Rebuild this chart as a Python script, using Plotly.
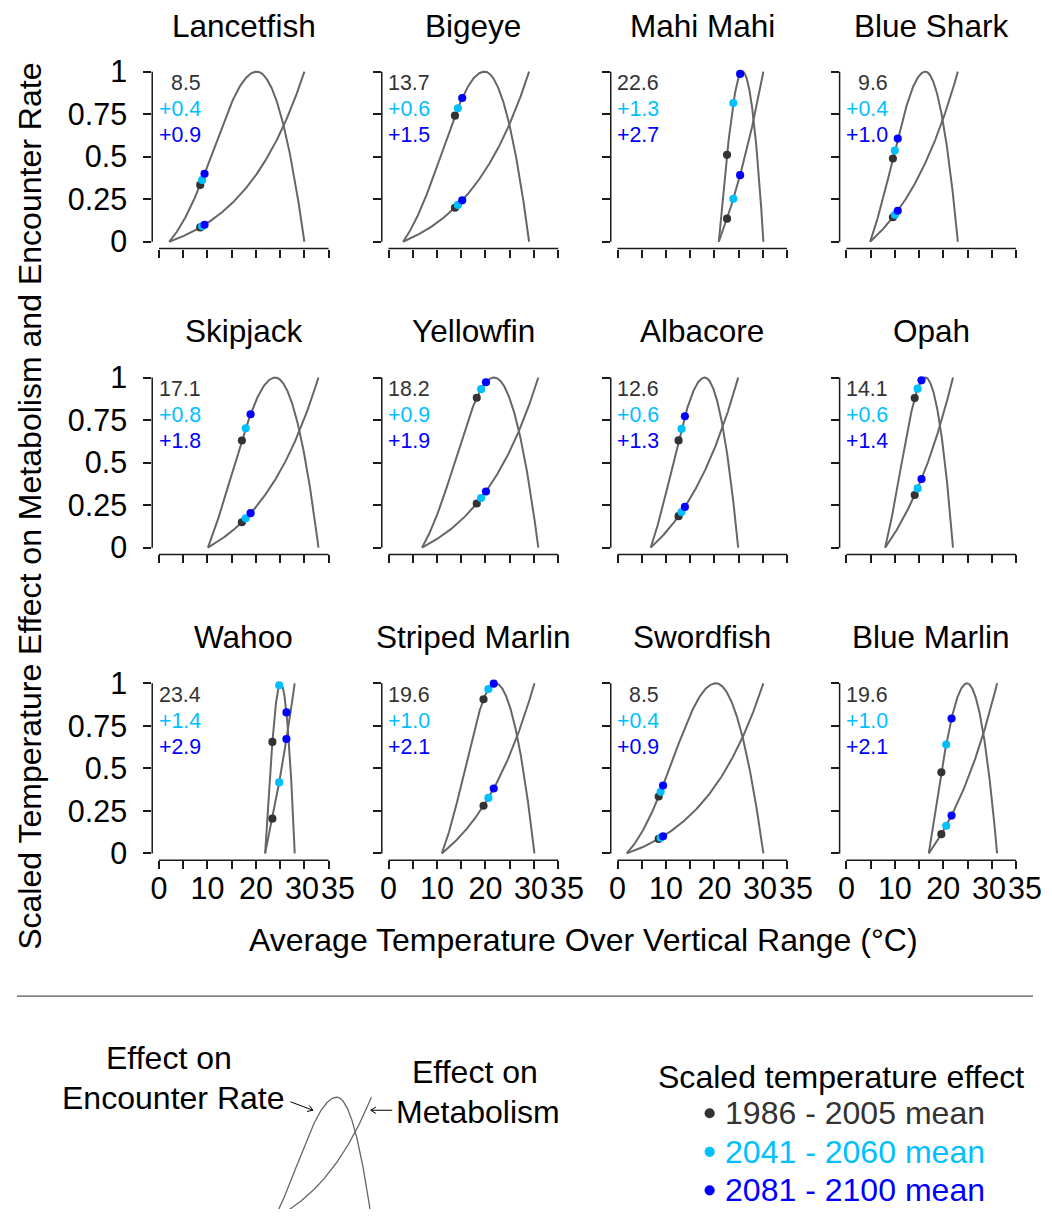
import numpy as np
import plotly.graph_objects as go

W, H = 1052, 1219
FONT = "Liberation Sans, Arial, Helvetica, sans-serif"

# layout grid -> figure pixels (layout px = SCALE * figure px + SHIFT)
SCALE_X, SHIFT_X = 1.0, 0.0
SCALE_Y, SHIFT_Y = 0.983, 10.4
FS = 1 / SCALE_Y  # font / marker size factor

# ---- species thermal niche parameters (deg C) ----
species = ["Lancetfish", "Bigeye", "Mahi Mahi", "Blue Shark",
           "Skipjack", "Yellowfin", "Albacore", "Opah",
           "Wahoo", "Striped Marlin", "Swordfish", "Blue Marlin"]
t_min = [2.1, 3.0, 20.9, 4.9, 10.1, 6.9, 6.85, 8.0, 21.9, 11.0, 1.9, 17.0]
t_opt = [20.2, 19.8, 25.8, 16.3, 24.0, 21.8, 18.0, 16.3, 25.1, 22.05, 20.3, 24.9]
t_max = [30.0, 29.0, 30.1, 23.0, 32.9, 30.9, 24.9, 22.0, 28.0, 30.1, 30.1, 31.1]
# width of the rising (Gaussian) limb relative to t_opt - t_min
rise_width = [0.69, 0.73, 1.4, 0.84, 0.9, 0.75, 0.85, 0.87, 1.3, 0.8, 0.68, 1.3]

# ---- mean temperature over vertical range and projected warming ----
temp_hist = [8.5, 13.7, 22.6, 9.6, 17.1, 18.2, 12.6, 14.1, 23.4, 19.6, 8.5, 19.6]
change_mid = [0.4, 0.6, 1.3, 0.4, 0.8, 0.9, 0.6, 0.6, 1.4, 1.0, 0.4, 1.0]
change_end = [0.9, 1.5, 2.7, 1.0, 1.8, 1.9, 1.3, 1.4, 2.9, 2.1, 0.9, 2.1]

period_labels = ["1986 - 2005 mean", "2041 - 2060 mean", "2081 - 2100 mean"]
period_colors = ["#333333", "#00BFFF", "#0000FF"]

x_ticks = [0, 5, 10, 15, 20, 25, 30, 35]
x_ticktext = ["0", "", "10", "", "20", "", "", ""]
# the last two labels are set apart so they do not collide
x_edge_ticks = [30, 35]
x_edge_text = ["30", "35"]
y_ticks = [0, 0.25, 0.5, 0.75, 1]
y_ticktext = ["0", "0.25", "0.5", "0.75", "1"]

# schematic curve in the key
key_tmin, key_topt, key_tmax, key_width = 10.0, 22.9, 30.0, 0.9

METAB_K = 0.077
CURVE_COLOR = "#666666"


def encounter(T, tmin, topt, tmax, r):
    T = np.asarray(T, dtype=float)
    w = r * (topt - tmin)
    c = np.exp(-((topt - tmin) / w) ** 2)
    rise = (np.exp(-((topt - T) / w) ** 2) - c) / (1 - c)
    fall = 1 - ((T - topt) / (tmax - topt)) ** 2
    return np.where(T <= topt, rise, fall)


def metabolism(T, tmin, tmax):
    T = np.asarray(T, dtype=float)
    return (np.exp(METAB_K * (T - tmin)) - 1) / (np.exp(METAB_K * (tmax - tmin)) - 1)


def fx(px):
    """layout pixel -> paper x"""
    return min(max((px - SHIFT_X) / SCALE_X / W, 0.0), 1.0)


def fy(py):
    """layout pixel -> paper y"""
    return min(max(1 - (py - SHIFT_Y) / SCALE_Y / H, 0.0), 1.0)


# ---- panel geometry (layout pixels) ----
PX_DEG = 4.855
PX_UNIT = 170.0
col_zero = [157.3, 387.3, 616.7, 846.0]
row_one = [72.0, 377.7, 683.3]
X_RANGE = [-1.4, 36.4]
Y_RANGE = [-0.04, 1.04]
EDGE_LABEL_SHIFT = [-2.7, 9.0]   # px, for the 30 / 35 labels
TICK_LABEL_Y = 887.5

fig = go.Figure()
layout = dict(width=W, height=H, margin=dict(l=0, r=0, t=0, b=0, pad=0), autosize=False,
              paper_bgcolor="white", plot_bgcolor="rgba(0,0,0,0)",
              showlegend=False, font=dict(family=FONT, color="black"))
annotations = []
shapes = []

for i, name in enumerate(species):
    r, c = divmod(i, 4)
    sfx = "" if i == 0 else str(i + 1)
    xa, ya = "x" + sfx, "y" + sfx
    left = col_zero[c] + X_RANGE[0] * PX_DEG
    right = col_zero[c] + X_RANGE[1] * PX_DEG
    top = row_one[r] - (Y_RANGE[1] - 1) * PX_UNIT
    bottom = row_one[r] + (1 - Y_RANGE[0]) * PX_UNIT

    layout["xaxis" + sfx] = dict(
        domain=[fx(left), fx(right)], range=X_RANGE, anchor=ya,
        showgrid=False, zeroline=False, showline=False,
        ticks="outside", ticklen=8, tickwidth=1.5, tickcolor="#1a1a1a",
        tickmode="array", tickvals=x_ticks, ticktext=x_ticktext, tickangle=0,
        showticklabels=(r == 2), tickfont=dict(size=30 * FS, family=FONT),
        ticklabelstandoff=-7, fixedrange=True)
    layout["yaxis" + sfx] = dict(
        domain=[fy(bottom), fy(top)], range=Y_RANGE, anchor=xa,
        showgrid=False, zeroline=False, showline=False,
        ticks="outside", ticklen=8, tickwidth=1.5, tickcolor="#1a1a1a",
        tickmode="array", tickvals=y_ticks, ticktext=y_ticktext, tickangle=0,
        showticklabels=(c == 0), tickfont=dict(size=30 * FS, family=FONT),
        ticklabelstandoff=10, fixedrange=True)

    if r == 2:
        for tv, tt, sh in zip(x_edge_ticks, x_edge_text, EDGE_LABEL_SHIFT):
            annotations.append(dict(text=tt, xref="x14", yref="y14",
                                    x=col_zero[c] + tv * PX_DEG + sh, y=TICK_LABEL_Y,
                                    xanchor="center", yanchor="middle",
                                    showarrow=False, borderpad=0,
                                    font=dict(size=30 * FS, family=FONT)))

    # axis lines spanning the tick range only
    shapes.append(dict(type="line", xref=xa + " domain", yref=ya, x0=0, x1=0, y0=0, y1=1,
                       line=dict(color="#1a1a1a", width=1.5)))
    shapes.append(dict(type="line", xref=xa, yref=ya + " domain", x0=0, x1=35, y0=0, y1=0,
                       line=dict(color="#1a1a1a", width=1.5)))

    T = np.linspace(t_min[i], t_max[i], 400)
    for yv in (encounter(T, t_min[i], t_opt[i], t_max[i], rise_width[i]),
               metabolism(T, t_min[i], t_max[i])):
        fig.add_trace(go.Scatter(x=T, y=yv, mode="lines", xaxis=xa, yaxis=ya,
                                 line=dict(color=CURVE_COLOR, width=2), hoverinfo="skip"))

    temps = [temp_hist[i], temp_hist[i] + change_mid[i], temp_hist[i] + change_end[i]]
    for tv, col in zip(temps, period_colors):
        e = float(encounter(tv, t_min[i], t_opt[i], t_max[i], rise_width[i]))
        m = float(metabolism(tv, t_min[i], t_max[i]))
        fig.add_trace(go.Scatter(x=[tv, tv], y=[e, m], mode="markers", xaxis=xa, yaxis=ya,
                                 marker=dict(color=col, size=8 * FS, line=dict(width=0)),
                                 hoverinfo="skip", cliponaxis=False))

    labels = [f"{temp_hist[i]:.1f}", f"+{change_mid[i]:.1f}", f"+{change_end[i]:.1f}"]
    for lab, col, yy in zip(labels, period_colors, [0.933, 0.779, 0.625]):
        annotations.append(dict(text=lab, xref=xa, yref=ya, x=9.0, y=yy,
                                xanchor="right", yanchor="middle", showarrow=False,
                                font=dict(size=21 * FS, color=col, family=FONT)))

    annotations.append(dict(text=name, xref="paper", yref="paper",
                            x=fx((left + right) / 2), y=fy(row_one[r] - 46),
                            xanchor="center", yanchor="middle", showarrow=False,
                            font=dict(size=31 * FS, family=FONT)))

# ---- full-page axis in layout pixels, for the key and dividers ----
page_right = SHIFT_X + SCALE_X * W
page_bottom = SHIFT_Y + SCALE_Y * H
layout["xaxis14"] = dict(domain=[0, 1], range=[SHIFT_X, page_right], visible=False,
                         fixedrange=True, anchor="y14")
layout["yaxis14"] = dict(domain=[0, 1], range=[page_bottom, SHIFT_Y], visible=False,
                         fixedrange=True, anchor="x14")

# ---- schematic axis ----
KEY_PX_DEG, KEY_PX_UNIT = 4.85, 121.0
key_x0, key_y0 = 273.0, 1218.0   # where (key_tmin, 0) sits
key_left = key_x0 - 1.0 * KEY_PX_DEG
key_right = key_x0 + 21.0 * KEY_PX_DEG
layout["xaxis13"] = dict(domain=[fx(key_left), fx(key_right)], range=[9, 31], visible=False,
                         fixedrange=True, anchor="y13")
layout["yaxis13"] = dict(domain=[0, fy(key_y0 - 1.05 * KEY_PX_UNIT)],
                         range=[(key_y0 - page_bottom) / KEY_PX_UNIT, 1.05], visible=False,
                         fixedrange=True, anchor="x13")
Tk = np.linspace(key_tmin, key_tmax, 300)
for yv in (encounter(Tk, key_tmin, key_topt, key_tmax, key_width),
           metabolism(Tk, key_tmin, key_tmax)):
    fig.add_trace(go.Scatter(x=Tk, y=yv, mode="lines", xaxis="x13", yaxis="y13",
                             line=dict(color=CURVE_COLOR, width=1.3), hoverinfo="skip"))

BIG = 31.5 * FS

# axis titles
annotations.append(dict(text="Average Temperature Over Vertical Range (°C)",
                        xref="x14", yref="y14", x=583, y=940, xanchor="center",
                        yanchor="middle", showarrow=False, font=dict(size=BIG, family=FONT)))
annotations.append(dict(text="Scaled Temperature Effect on Metabolism and Encounter Rate",
                        xref="x14", yref="y14", x=28, y=506, xanchor="center",
                        yanchor="middle", textangle=-90, showarrow=False,
                        font=dict(size=BIG, family=FONT)))

# divider
shapes.append(dict(type="line", xref="x14", yref="y14", x0=15, x1=1033, y0=996, y1=996,
                   line=dict(color="#555555", width=1.2)))

# schematic labels
for txt, x, y in [("Effect on", 167, 1058), ("Encounter Rate", 172, 1098),
                  ("Effect on", 474, 1072), ("Metabolism", 477, 1112)]:
    annotations.append(dict(text=txt, xref="x14", yref="y14", x=x, y=y, xanchor="center",
                            yanchor="middle", showarrow=False, font=dict(size=BIG, family=FONT)))


def arrow_path(tail, head, length=6.0, spread=np.radians(32)):
    tx, ty = tail
    hx, hy = head
    back = np.arctan2(ty - hy, tx - hx)
    p1 = (hx + length * np.cos(back + spread), hy + length * np.sin(back + spread))
    p2 = (hx + length * np.cos(back - spread), hy + length * np.sin(back - spread))
    return (f"M{tx},{ty} L{hx},{hy} M{p1[0]:.2f},{p1[1]:.2f} L{hx},{hy} "
            f"L{p2[0]:.2f},{p2[1]:.2f}")


for tail, head in [((289, 1101.5), (311.5, 1110)), ((391, 1110), (369.5, 1110))]:
    shapes.append(dict(type="path", xref="x14", yref="y14", path=arrow_path(tail, head),
                       line=dict(color="black", width=1)))

# legend of periods
annotations.append(dict(text="Scaled temperature effect", xref="x14", yref="y14", x=841,
                        y=1077, xanchor="center", yanchor="middle", showarrow=False,
                        font=dict(size=BIG, family=FONT)))
for k, (lab, col) in enumerate(zip(period_labels, period_colors)):
    yy = 1113 + k * 38.5
    fig.add_trace(go.Scatter(x=[709], y=[yy], mode="markers", xaxis="x14", yaxis="y14",
                             marker=dict(color=col, size=10 * FS, line=dict(width=0)),
                             hoverinfo="skip", cliponaxis=False))
    annotations.append(dict(text=lab, xref="x14", yref="y14", x=722, y=yy, xanchor="left",
                            yanchor="middle", showarrow=False,
                            font=dict(size=BIG, color=col, family=FONT)))

layout["annotations"] = annotations
layout["shapes"] = shapes
fig.update_layout(**layout)
fig.write_html(
    "out.html",
    post_script="document.documentElement.style.margin='0';"
                "document.body.style.margin='0';document.body.style.overflow='hidden';")
